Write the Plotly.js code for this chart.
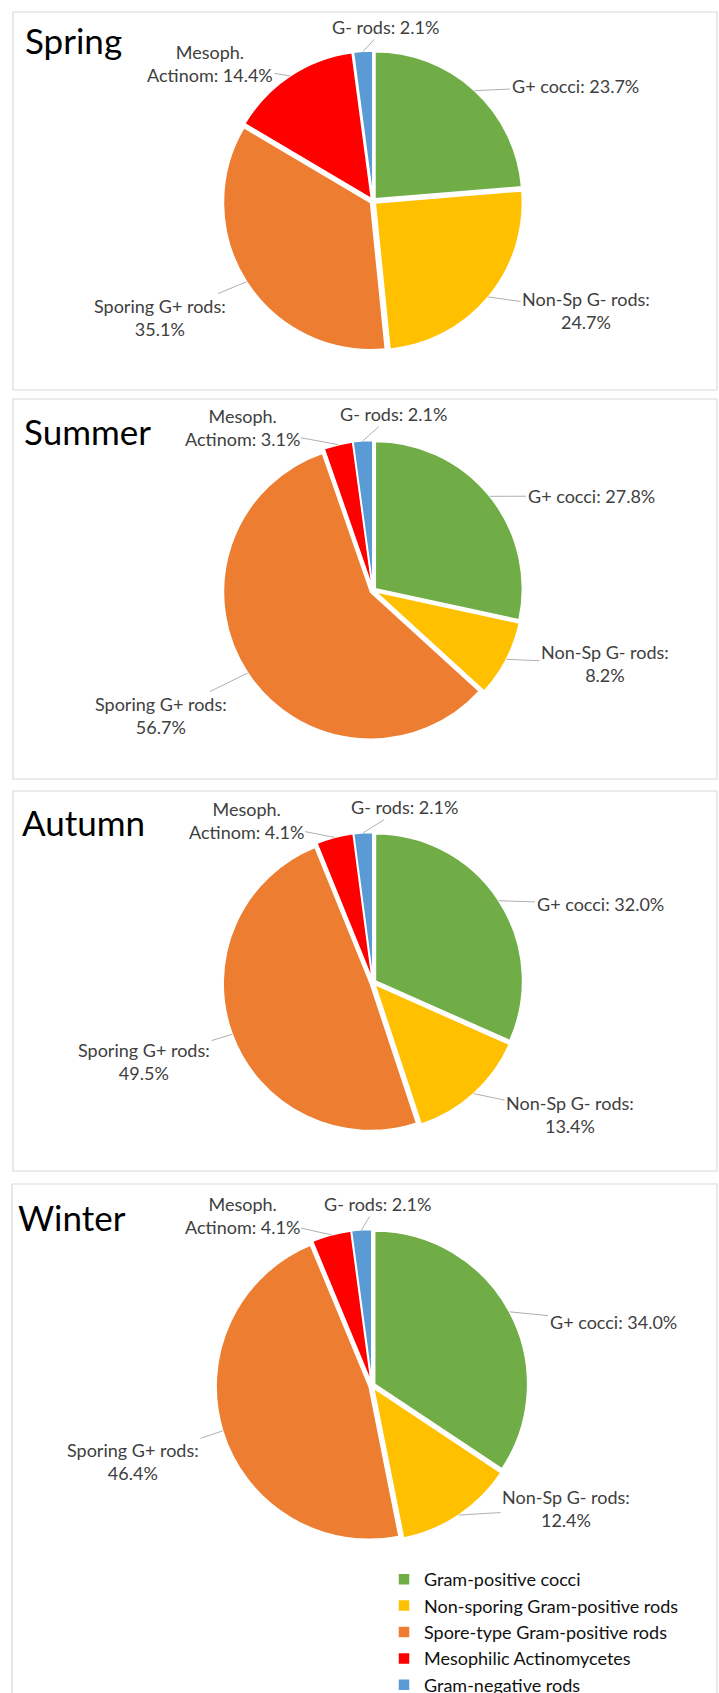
<!DOCTYPE html>
<html><head><meta charset="utf-8">
<script src="https://cdn.plot.ly/plotly-3.0.1.min.js"></script>
<style>html,body{margin:0;padding:0;background:#fff;overflow:hidden;} #chart{width:719px;height:1693px;}</style>
</head><body><div id="chart"></div>
<script>
// ---- data ----
const categories = ["Gram-positive cocci", "Non-sporing Gram-positive rods", "Spore-type Gram-positive rods", "Mesophilic Actinomycetes", "Gram-negative rods"];
const shortLabels = ["G+ cocci", "Non-Sp G- rods", "Sporing G+ rods", "Mesoph. Actinom", "G- rods"];
const seasons = ["Spring", "Summer", "Autumn", "Winter"];
const springValues = [23.7, 24.7, 35.1, 14.4, 2.1];
const summerValues = [27.8, 8.2, 56.7, 3.1, 2.1];
const autumnValues = [32.0, 13.4, 49.5, 4.1, 2.1];
const winterValues = [34.0, 12.4, 46.4, 4.1, 2.1];
const seasonValues = [springValues, summerValues, autumnValues, winterValues];

// ---- style / layout ----
const W = 719, H = 1693;
const colors = ["#70ad47", "#ffc000", "#ed7d31", "#ff0000", "#5b9bd5"];
const PULL = 0.02;
const FONT = "Lato, 'Open Sans', sans-serif";
const panels = [
  {box: [13, 12, 717, 390],    center: [373, 201],    R: 150, title: [23, 40],
   labels: [[575, 86], [586, 310.5], [160, 317.5], [210, 63.5], [386, 27]]},
  {box: [13, 399, 717, 779],   center: [373, 590.5],  R: 150, title: [22, 431],
   labels: [[591, 496], [605, 663.5], [161, 715.5], [242, 427], [393, 414]]},
  {box: [13, 791, 717, 1171],  center: [373, 982.5],  R: 150, title: [20, 822],
   labels: [[600, 904], [570, 1114], [144, 1061], [246, 820], [404, 807]]},
  {box: [12, 1184, 717, 1720], center: [372, 1385.5], R: 156, title: [16, 1217],
   labels: [[613, 1322], [566, 1508.5], [133, 1461], [242, 1215], [377, 1204]]}
];

function labelText(i, v) {
  const pct = v.toFixed(1) + "%";
  const name = shortLabels[i];
  if (i === 1 || i === 2) return name + ":<br>" + pct;
  if (i === 3) { const parts = name.split(" "); return parts[0] + "<br>" + parts[1] + ": " + pct; }
  return name + ": " + pct;
}

const px = x => x / W;
const py = y => 1 - y / H;

const traces = [], shapes = [], annotations = [];
seasons.forEach((season, s) => {
  const p = panels[s];
  const vals = seasonValues[s];
  const [cx, cy] = p.center;
  traces.push({
    type: "pie", name: season, values: vals, labels: categories,
    sort: false, direction: "clockwise", rotation: 0,
    marker: {colors: colors, line: {color: "#ffffff", width: 1.5}},
    pull: PULL, textinfo: "none", hoverinfo: "label+value",
    showlegend: true,
    domain: {x: [px(cx - p.R), px(cx + p.R)], y: [py(cy + p.R), py(cy - p.R)]}
  });
  shapes.push({type: "rect", xref: "paper", yref: "paper",
    x0: px(p.box[0]), x1: px(p.box[2]), y0: py(p.box[3]), y1: py(p.box[1]),
    line: {color: "#d9d9d9", width: 1.2}, fillcolor: "rgba(0,0,0,0)"});
  annotations.push({xref: "paper", yref: "paper", x: px(p.title[0]), y: py(p.title[1]),
    xanchor: "left", yanchor: "middle", showarrow: false, text: season,
    font: {family: FONT, size: 35, color: "#000000"}});
  // slice labels with leader lines pointing at slice mid-angle
  const total = vals.reduce((a, b) => a + b, 0);
  let cum = 0;
  vals.forEach((v, i) => {
    const theta = 2 * Math.PI * (cum + v / 2) / total;
    cum += v;
    const hx = cx + p.R * Math.sin(theta), hy = cy - p.R * Math.cos(theta);
    const [tx, ty] = p.labels[i];
    annotations.push({xref: "paper", yref: "paper", x: px(hx), y: py(hy),
      ax: tx - hx, ay: ty - hy, showarrow: true, arrowhead: 0, arrowwidth: 1,
      arrowcolor: "#b0b0b0", standoff: 0, startstandoff: 0, align: "center",
      text: labelText(i, v), font: {family: FONT, size: 18, color: "#404040"}});
  });
});

const layout = {
  width: W, height: H, margin: {l: 0, r: 0, t: 0, b: 0, autoexpand: false},
  paper_bgcolor: "#ffffff", plot_bgcolor: "#ffffff",
  showlegend: true,
  legend: {x: px(384), y: py(1561), xanchor: "left", yanchor: "top",
    traceorder: "normal", font: {family: FONT, size: 18, color: "#111111"},
    bgcolor: "rgba(0,0,0,0)", itemwidth: 30},
  shapes: shapes, annotations: annotations
};
Plotly.newPlot("chart", traces, layout, {displayModeBar: false, staticPlot: true});
</script>
</body></html>
